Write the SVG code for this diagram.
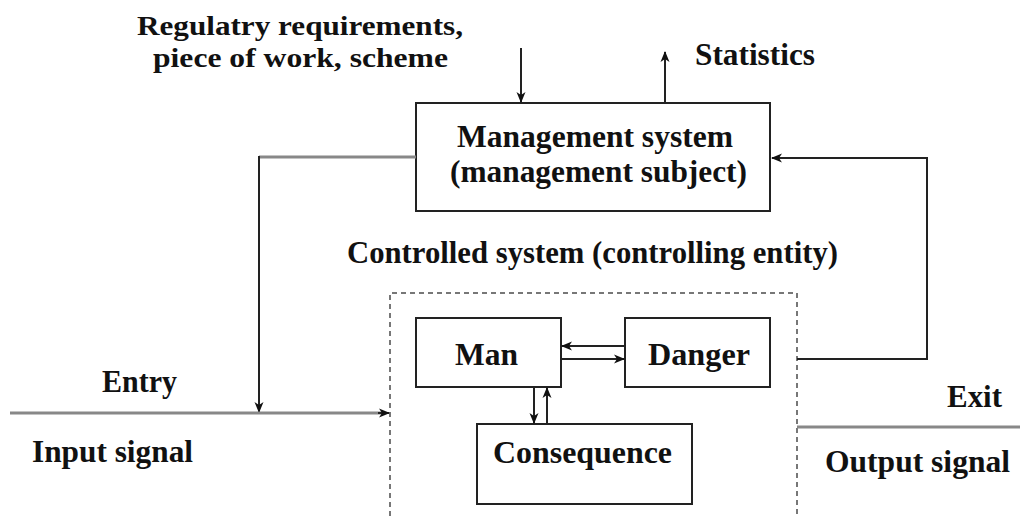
<svg xmlns="http://www.w3.org/2000/svg" width="1020" height="516" viewBox="0 0 1020 516">
<style>
text{font-family:"Liberation Serif","Times New Roman",serif;font-weight:bold;font-size:31px;fill:#111}
.top{font-size:28px}
.box{fill:#fff;stroke:#222;stroke-width:2}
.ln{fill:none;stroke:#222;stroke-width:2}
.gl{fill:none;stroke:#888;stroke-width:3}
.ds{fill:none;stroke:#777;stroke-width:2;stroke-dasharray:5 4}
</style>
<defs>
<marker id="ah" markerWidth="11" markerHeight="11" refX="10" refY="5.5" orient="auto" markerUnits="userSpaceOnUse">
<path d="M0,1 L11,5.5 L0,10 L3,5.5 Z" fill="#111"/>
</marker>
</defs>
<rect width="1020" height="516" fill="#fff"/>
<g id="labels">
<text class="top" x="137" y="35" textLength="326" lengthAdjust="spacingAndGlyphs">Regulatry requirements,</text>
<text class="top" x="153" y="67" textLength="295" lengthAdjust="spacingAndGlyphs">piece of work, scheme</text>
<text x="695" y="65" textLength="120" lengthAdjust="spacingAndGlyphs">Statistics</text>
<text x="347" y="263" textLength="491" lengthAdjust="spacingAndGlyphs">Controlled system (controlling entity)</text>
<text x="102" y="392" textLength="75" lengthAdjust="spacingAndGlyphs">Entry</text>
<text x="32" y="462" textLength="161" lengthAdjust="spacingAndGlyphs">Input signal</text>
<text x="947" y="407" textLength="55" lengthAdjust="spacingAndGlyphs">Exit</text>
<text x="825" y="472" textLength="185" lengthAdjust="spacingAndGlyphs">Output signal</text>
</g>
<g id="controlled-system">
<path class="ds" d="M390,516 V293 H797 V516"/>
</g>
<g id="management">
<rect class="box" x="416" y="103" width="354" height="108"/>
<text x="457" y="147" textLength="276" lengthAdjust="spacingAndGlyphs">Management system</text>
<text x="450" y="182" textLength="297" lengthAdjust="spacingAndGlyphs">(management subject)</text>
</g>
<g id="man">
<rect class="box" x="416" y="318" width="145" height="69"/>
<text x="455" y="365" textLength="63" lengthAdjust="spacingAndGlyphs">Man</text>
</g>
<g id="danger">
<rect class="box" x="625" y="318" width="145" height="69"/>
<text x="648" y="365" textLength="102" lengthAdjust="spacingAndGlyphs">Danger</text>
</g>
<g id="consequence">
<rect class="box" x="477" y="424" width="215" height="80"/>
<text x="493" y="463" textLength="179" lengthAdjust="spacingAndGlyphs">Consequence</text>
</g>
<g id="connectors">
<line class="ln" x1="521" y1="48" x2="521" y2="102" marker-end="url(#ah)"/>
<line class="ln" x1="665" y1="103" x2="665" y2="52" marker-end="url(#ah)"/>
<path class="gl" d="M416,157 H259"/>
<line class="ln" x1="259" y1="156" x2="259" y2="412" marker-end="url(#ah)"/>
<line class="gl" x1="10" y1="413" x2="382" y2="413"/>
<line class="ln" x1="378" y1="413" x2="389" y2="413" marker-end="url(#ah)"/>
<path class="ln" d="M797,359 H927 V158 H772" marker-end="url(#ah)"/>
<line class="gl" x1="797" y1="427" x2="1020" y2="427"/>
<line class="ln" x1="625" y1="346" x2="562" y2="346" marker-end="url(#ah)"/>
<line class="ln" x1="561" y1="359" x2="624" y2="359" marker-end="url(#ah)"/>
<line class="ln" x1="534" y1="387" x2="534" y2="423" marker-end="url(#ah)"/>
<line class="ln" x1="547" y1="424" x2="547" y2="388" marker-end="url(#ah)"/>
</g>
</svg>
